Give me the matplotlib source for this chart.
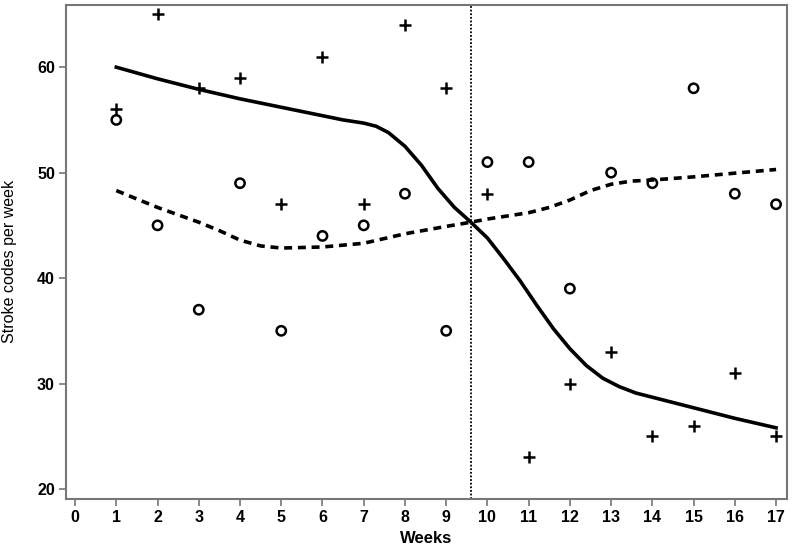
import matplotlib
matplotlib.use("Agg")
import matplotlib.pyplot as plt

plt.rcParams['font.family'] = ['Liberation Sans', 'DejaVu Sans']

weeks = list(range(1, 18))
plus_values = [56, 65, 58, 59, 47, 61, 47, 64, 58, 48, 23, 30, 33, 25, 26, 31, 25]
circle_values = [55, 45, 37, 49, 35, 44, 45, 48, 35, 51, 51, 39, 50, 49, 58, 48, 47]

solid_x = [1, 2, 3, 4, 5, 6, 6.5, 7, 7.3, 7.6, 8, 8.4, 8.8, 9.2, 9.6, 10, 10.4, 10.8, 11.2, 11.6, 12, 12.4, 12.8, 13.2, 13.6, 14, 15, 16, 17]
solid_curve = [60.0, 58.9, 57.9, 57.0, 56.2, 55.4, 55.0, 54.7, 54.4, 53.8, 52.5, 50.7, 48.5, 46.7, 45.3, 43.8, 41.8, 39.7, 37.4, 35.2, 33.3, 31.7, 30.5, 29.7, 29.1, 28.7, 27.7, 26.7, 25.8]
dashed_x = [1, 2, 3, 3.5, 4, 4.5, 5, 6, 7, 8, 9, 9.6, 10, 11, 11.5, 12, 12.5, 13, 13.5, 14, 15, 16, 17]
dashed_curve = [48.3, 46.7, 45.3, 44.5, 43.6, 43.05, 42.85, 42.95, 43.3, 44.2, 44.9, 45.3, 45.6, 46.2, 46.7, 47.4, 48.3, 48.9, 49.2, 49.3, 49.6, 49.95, 50.3]
change_week = 9.6

xticks = list(range(0, 18))
yticks = [20, 30, 40, 50, 60]

fig = plt.figure(figsize=(8, 5.54), dpi=100)
ax = fig.add_axes([0.0825, 0.0993, 0.9015, 0.8917])

ax.plot(solid_x, solid_curve, color='black', lw=2.6, solid_joinstyle='round')
ax.plot(dashed_x, dashed_curve, color='black', lw=2.6, dashes=(2.2, 1.6))
ax.axvline(change_week, color='black', lw=1.3, ls=(0, (1, 1)))

ax.scatter(weeks, plus_values, marker='+', s=70, color='black', linewidths=1.8, zorder=3)
ax.scatter(weeks, circle_values, marker='o', s=45, facecolors='none', edgecolors='black', linewidths=1.8, zorder=3)

ax.set_xlim(-0.22, 17.27)
ax.set_ylim(19.05, 65.9)
ax.set_xticks(xticks)
ax.set_yticks(yticks)
ax.set_xticklabels([str(t) for t in xticks], fontsize=11.5, fontweight='bold')
ax.set_yticklabels([str(t) for t in yticks], fontsize=11.5, fontweight='bold')
ax.tick_params(direction='out', length=5, width=1.2, color='#777777', pad=3)
for sp in ax.spines.values():
    sp.set_color('#777777')
    sp.set_linewidth(1.5)

ax.set_xlabel('Weeks', fontsize=12, fontweight='bold', labelpad=4)
ax.set_ylabel('Stroke codes per week', fontsize=11.5)
ax.yaxis.set_label_coords(-0.068, 0.48)

fig.savefig('out.png', dpi=100)
